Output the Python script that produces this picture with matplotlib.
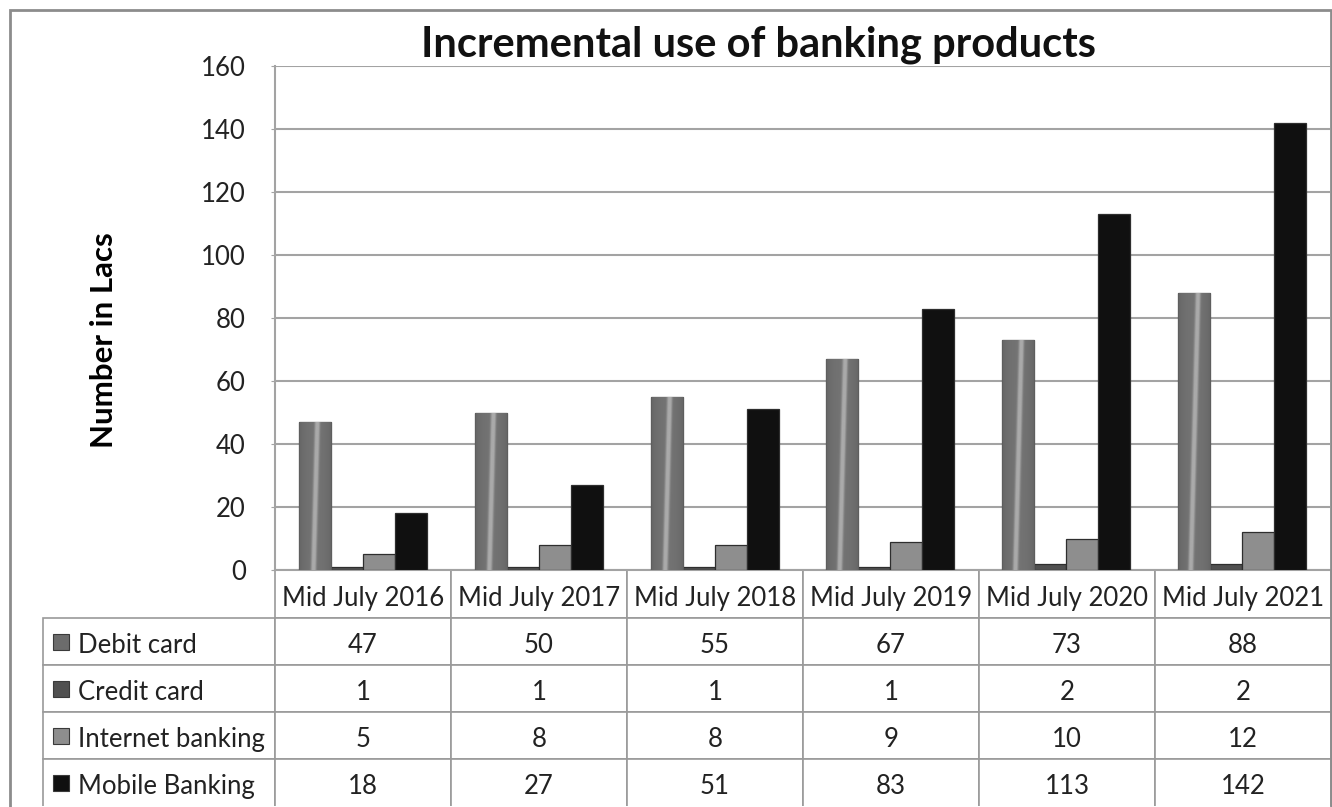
import matplotlib
matplotlib.use("Agg")
import matplotlib.pyplot as plt
import matplotlib.transforms as mtransforms
import numpy as np
from matplotlib.colors import LinearSegmentedColormap
from matplotlib.patches import Rectangle
from matplotlib.table import Table

# --------------------------------------------------
# chart data
# --------------------------------------------------
categories = ["Mid July 2016", "Mid July 2017", "Mid July 2018",
              "Mid July 2019", "Mid July 2020", "Mid July 2021"]
series_names = ["Debit card", "Credit card", "Internet banking", "Mobile Banking"]
debit_card = [47, 50, 55, 67, 73, 88]
credit_card = [1, 1, 1, 1, 2, 2]
internet_banking = [5, 8, 8, 9, 10, 12]
mobile_banking = [18, 27, 51, 83, 113, 142]
y_ticks = [0, 20, 40, 60, 80, 100, 120, 140, 160]

series_values = [debit_card, credit_card, internet_banking, mobile_banking]
series_colors = ["#6c6c6c", "#505050", "#8e8e8e", "#101010"]

plt.rcParams["font.family"] = ["Lato", "DejaVu Sans"]

# --------------------------------------------------
# figure geometry (pixel based)
# --------------------------------------------------
W, H = 1332, 807
fig = plt.figure(figsize=(W / 100, H / 100), dpi=100)

ax_l, ax_r, ax_t, ax_b = 275, 1330, 66, 570
aw, ah = ax_r - ax_l, ax_b - ax_t
ax = fig.add_axes([ax_l / W, 1 - ax_b / H, aw / W, ah / H])

# outer frame
fig.patches.append(Rectangle((10 / W, -0.05), (1331 - 10) / W, 1 - 10 / H + 0.05,
                             transform=fig.transFigure, fill=False,
                             edgecolor="#8c8c8c", linewidth=2))

# --------------------------------------------------
# bars
# --------------------------------------------------
x = np.arange(len(categories))
bar_w = 0.182
offsets = (np.arange(len(series_names)) - 1.5) * bar_w
bar_groups = []
for vals, off, col in zip(series_values, offsets, series_colors):
    bars = ax.bar(x + off, vals, width=bar_w, color=col, edgecolor="#2e2e2e",
                  linewidth=0.9, zorder=3)
    bar_groups.append(bars)

# thin, slightly tilted highlight on the debit card bars
stripe_cmap = LinearSegmentedColormap.from_list(
    "stripe", ["#4a4a4a", "#686868", "#757575", "#aaaaaa"])
px_per_unit = ah / 160.0
for bar in bar_groups[0]:
    bx, bw, bh = bar.get_x(), bar.get_width(), bar.get_height()
    h_px = bh * px_per_unit
    nv = max(int(h_px), 2)
    u = np.linspace(0, 1, 48)[None, :]
    v = np.linspace(0, h_px, nv)[::-1][:, None]
    centre = 0.5 + (v - h_px / 2) / 1200.0
    shade = 0.2 + 0.4 * np.sin(np.pi * u) ** 0.5
    img = np.clip(shade + 0.5 * np.exp(-(u - centre) ** 2 / (2 * 0.06 ** 2)), 0, 1)
    im = ax.imshow(img, extent=[bx, bx + bw, 0, bh], cmap=stripe_cmap, vmin=0, vmax=1,
                   aspect="auto", zorder=3.5, interpolation="bilinear")
    im.set_clip_path(bar)

ax.set_xlim(-0.5, len(categories) - 0.5)
ax.set_ylim(0, 160)
ax.set_yticks(y_ticks)
ax.set_xticks([])
ax.grid(axis="y", color="#a3a3a3", linewidth=1.5, zorder=0)
for side in ["left", "top", "right", "bottom"]:
    ax.spines[side].set_color("#a3a3a3")
    ax.spines[side].set_linewidth(1.5)
ax.spines["top"].set_visible(False)
ax.spines["right"].set_visible(False)
ax.tick_params(axis="y", length=3, color="#a3a3a3", pad=18, labelsize=18.5,
               labelcolor="#222222")

ax.set_ylabel("Number in Lacs", fontsize=22.5, fontweight="bold", labelpad=0)
ax.yaxis.set_label_coords((118 - ax_l) / aw, (ax_b - 340) / ah)

fig.text(759 / W, 1 - 45 / H, "Incremental use of banking products",
         ha="center", va="center", fontsize=30, fontweight="bold", color="#111111")

# --------------------------------------------------
# data table below the axes
# (bbox covers the data columns only, row labels hang off the left)
# --------------------------------------------------
tab_right, tab_bottom = 1331, 806
label_w, col_w, row_h = 232, 176, 47
tbl = Table(ax, bbox=[0, (ax_b - tab_bottom) / ah,
                      (tab_right - ax_l) / aw, (tab_bottom - ax_b) / ah])
ax.add_table(tbl)
tbl.set_clip_on(False)
for j, cat in enumerate(categories):
    tbl.add_cell(0, j, width=col_w / aw, height=(row_h + 1) / ah, text=cat,
                 loc="center", edgecolor="#9a9a9a")
for i, name in enumerate(series_names):
    c = tbl.add_cell(i + 1, -1, width=label_w / aw, height=row_h / ah, text=name,
                     loc="left", edgecolor="#9a9a9a")
    c.PAD = 35 / label_w
    for j, v in enumerate(series_values[i]):
        tbl.add_cell(i + 1, j, width=col_w / aw, height=row_h / ah, text=str(v),
                     loc="center", edgecolor="#9a9a9a")
tbl.auto_set_font_size(False)
tbl.set_fontsize(18.5)
text_shift = mtransforms.Affine2D().translate(0, -4)
for (r, cidx), cell in tbl.get_celld().items():
    cell.get_text().set_color("#222222")
    cell.get_text().set_transform(text_shift)
    cell.set_linewidth(1.2)
    cell.set_clip_on(False)
    if r == len(series_names):
        cell.visible_edges = "LRT"

# legend keys in the row label cells
for i, col in enumerate(series_colors):
    cy = ax_b + row_h + 1 + row_h * i + row_h / 2
    ax.add_patch(Rectangle(((53 - ax_l) / aw, (ax_b - cy - 8) / ah), 16 / aw, 16 / ah,
                           transform=ax.transAxes, clip_on=False,
                           facecolor=col, edgecolor="#3a3a3a", linewidth=0.8))

fig.savefig("out.png", dpi=100)
